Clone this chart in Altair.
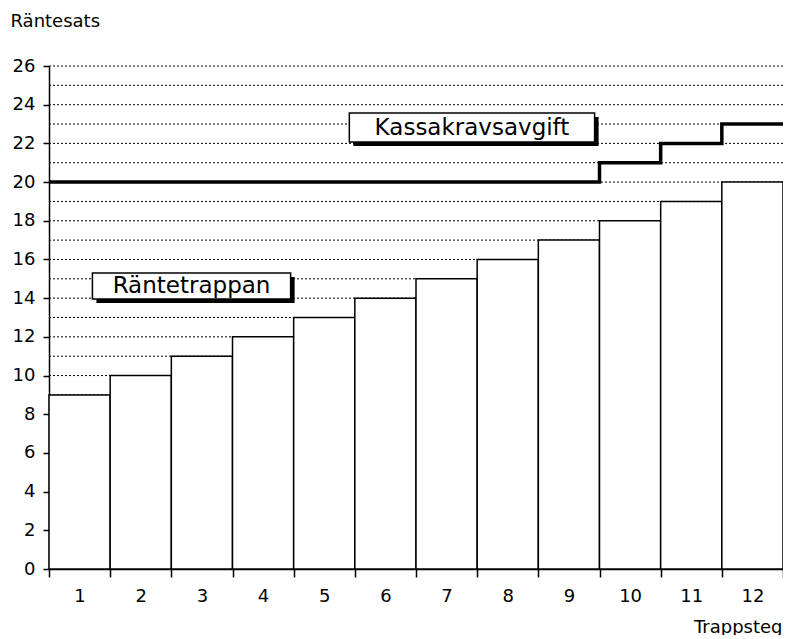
import altair as alt
import pandas as pd

# Data
steps = [1, 2, 3, 4, 5, 6, 7, 8, 9, 10, 11, 12]
rantetrappan = [9, 10, 11, 12, 13, 14, 15, 16, 17, 18, 19, 20]
kassakravsavgift = [20, 20, 20, 20, 20, 20, 20, 20, 20, 21, 22, 23]
y_ticks = [0, 2, 4, 6, 8, 10, 12, 14, 16, 18, 20, 22, 24, 26]
grid_levels = list(range(1, 27))

# annotation boxes (data coordinates)
ann_text = ["Kassakravsavgift", "Räntetrappan"]
ann_x = [5.41, 1.21]
ann_x2 = [9.42, 4.45]
ann_y = [23.57, 15.30]
ann_y2 = [22.07, 13.95]

FONT = "DejaVu Sans"
W, H = 734, 503
XS = alt.Scale(domain=[0.5, 12.5], nice=False, zero=False)
YS = alt.Scale(domain=[0, 26], nice=False)

bars_df = pd.DataFrame({"step": steps, "value": rantetrappan})
line_df = pd.DataFrame({
    "x": [s - 0.5 for s in steps] + [steps[-1] + 0.5],
    "y": kassakravsavgift + [kassakravsavgift[-1]],
})
grid_df = pd.DataFrame({"v": grid_levels})
ann_df = pd.DataFrame({"text": ann_text, "x": ann_x, "x2": ann_x2, "y": ann_y, "y2": ann_y2})
ann_df["xc"] = (ann_df["x"] + ann_df["x2"]) / 2
ann_df["yc"] = (ann_df["y"] + ann_df["y2"]) / 2

common = dict(
    domainColor="black", domainWidth=1.5, tickColor="black", tickWidth=1.5,
    labelColor="black", labelFont=FONT, labelFontSize=18,
    titleColor="black", titleFont=FONT, titleFontSize=18, titleFontWeight="normal",
    labelOverlap=False, grid=False,
)

x_axis = alt.Axis(
    values=[s - 0.5 for s in steps] + [steps[-1] + 0.5],
    labelExpr="datum.value < 12 ? format(datum.value + 0.5, 'd') : ''",
    labelOffset=W / 24, labelFlush=False, labelBound=False,
    tickSize=8, labelPadding=10,
    title="Trappsteg", titleX=W - 1, titleY=63, titleAlign="right",
    titleBaseline="alphabetic", **common,
)
y_axis = alt.Axis(
    values=y_ticks, tickSize=6, labelPadding=8,
    title="Räntesats", titleAngle=0, titleX=-39, titleY=-40,
    titleAlign="left", titleBaseline="alphabetic", **common,
)


def X(f):
    return alt.X(f, scale=XS, axis=x_axis)


def Y(f):
    return alt.Y(f, scale=YS, axis=y_axis)


grid = alt.Chart(grid_df).mark_rule(
    color="black", strokeDash=[2, 2], strokeWidth=1
).encode(y=Y("v:Q"))

bars = alt.Chart(bars_df).transform_calculate(
    lo="datum.step - 0.5", hi="datum.step + 0.5"
).mark_rect(fill="white", stroke="black", strokeWidth=1.5).encode(
    x=X("lo:Q"), x2="hi:Q", y=Y("value:Q"), y2=alt.datum(0),
)

line = alt.Chart(line_df).mark_line(
    color="black", strokeWidth=3.5, interpolate="step-after"
).encode(x=X("x:Q"), y=Y("y:Q"))

shadow = alt.Chart(ann_df).mark_rect(
    fill="black", xOffset=4, x2Offset=4, yOffset=4, y2Offset=4
).encode(x=X("x:Q"), x2="x2:Q", y=Y("y:Q"), y2="y2:Q")

box = alt.Chart(ann_df).mark_rect(
    fill="white", stroke="black", strokeWidth=1.5
).encode(x=X("x:Q"), x2="x2:Q", y=Y("y:Q"), y2="y2:Q")

label = alt.Chart(ann_df).mark_text(
    font=FONT, fontSize=23, color="black", align="center", baseline="middle"
).encode(x=X("xc:Q"), y=Y("yc:Q"), text="text:N")

chart = alt.layer(grid, bars, line, shadow, box, label).properties(
    width=W, height=H,
    autosize=alt.AutoSizeParams(type="none"),
    padding={"left": 41, "top": 58, "right": 0, "bottom": 66},
).configure_view(stroke=None)

chart.save("out.html", embed_options={"renderer": "svg", "actions": False})
